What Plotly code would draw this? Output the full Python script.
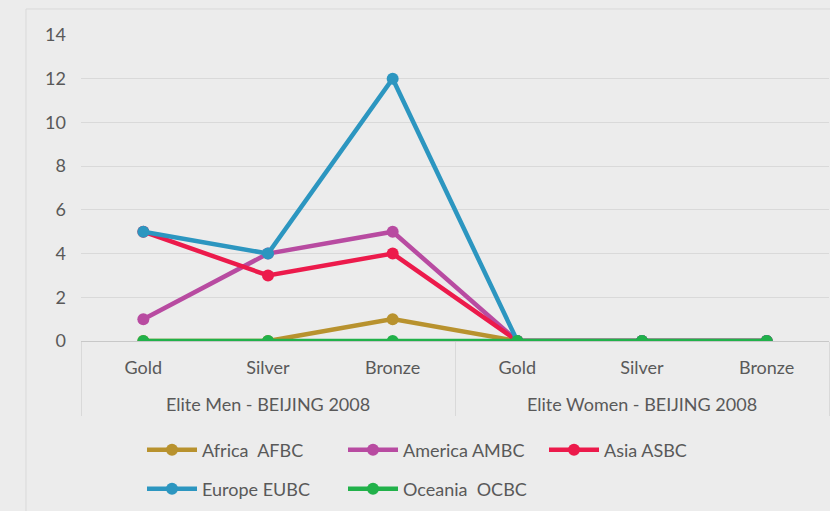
import plotly.graph_objects as go

groups = ["<br>Elite Men - BEIJING 2008"] * 3 + ["<br>Elite Women - BEIJING 2008"] * 3
medals = ["Gold", "Silver", "Bronze", "Gold", "Silver", "Bronze"]

series_names = ["Africa  AFBC", "America AMBC", "Asia ASBC", "Europe EUBC", "Oceania  OCBC"]
africa = [0, 0, 1, 0, 0, 0]
america = [1, 4, 5, 0, 0, 0]
asia = [5, 3, 4, 0, 0, 0]
europe = [5, 4, 12, 0, 0, 0]
oceania = [0, 0, 0, 0, 0, 0]
series_values = [africa, america, asia, europe, oceania]
colors = ["#B8922E", "#B84BA1", "#EC1A4B", "#2C96C0", "#21B14A"]
legend_ids = ["legend", "legend", "legend", "legend2", "legend2"]

FONT = "Lato"
TXT = "#595959"
BG = "#ececec"

fig = go.Figure()
for name, vals, col, lg in zip(series_names, series_values, colors, legend_ids):
    fig.add_trace(go.Scatter(
        x=[groups, medals], y=vals, name=name, mode="lines+markers",
        line=dict(color=col, width=4.5), marker=dict(color=col, size=12),
        legend=lg,
    ))

legend_common = dict(
    orientation="h", font=dict(family=FONT, size=18, color=TXT),
    bgcolor="rgba(0,0,0,0)", entrywidth=136, entrywidthmode="pixels",
    xref="container", yref="container", xanchor="left", yanchor="middle",
    itemwidth=50,
)

fig.update_layout(
    width=830, height=511,
    margin=dict(l=81, r=1, t=35, b=170),
    paper_bgcolor=BG, plot_bgcolor=BG,
    font=dict(family=FONT, size=18, color=TXT),
    showlegend=True,
    legend=dict(x=142 / 830, y=61 / 511, **legend_common),
    legend2=dict(x=142 / 830, y=22 / 511, **legend_common),
    xaxis=dict(
        type="multicategory", range=[-0.5, 5.5], showgrid=False, showline=True,
        linecolor="#c8c8c8", linewidth=1, showdividers=True,
        dividercolor="#d9d9d9", dividerwidth=1, ticklabelstandoff=10,
        tickfont=dict(family=FONT, size=18, color=TXT), ticks="",
    ),
    yaxis=dict(
        range=[0, 14], dtick=2, showgrid=True, gridcolor="#d9d9d9", gridwidth=1,
        zeroline=False, showline=False, ticks="", ticklabelstandoff=14,
        tickfont=dict(family=FONT, size=18, color=TXT),
    ),
    shapes=[dict(type="rect", xref="paper", yref="paper",
                 x0=(26 - 81) / 748, x1=1.2, y0=-0.7, y1=(341 - 9) / 306,
                 line=dict(color="#d9d9d9", width=1), fillcolor="rgba(0,0,0,0)",
                 layer="below")],
)

fig.write_html("out.html", config={"displayModeBar": False},
               post_script="document.body.style.margin='0';document.body.style.padding='0';")
